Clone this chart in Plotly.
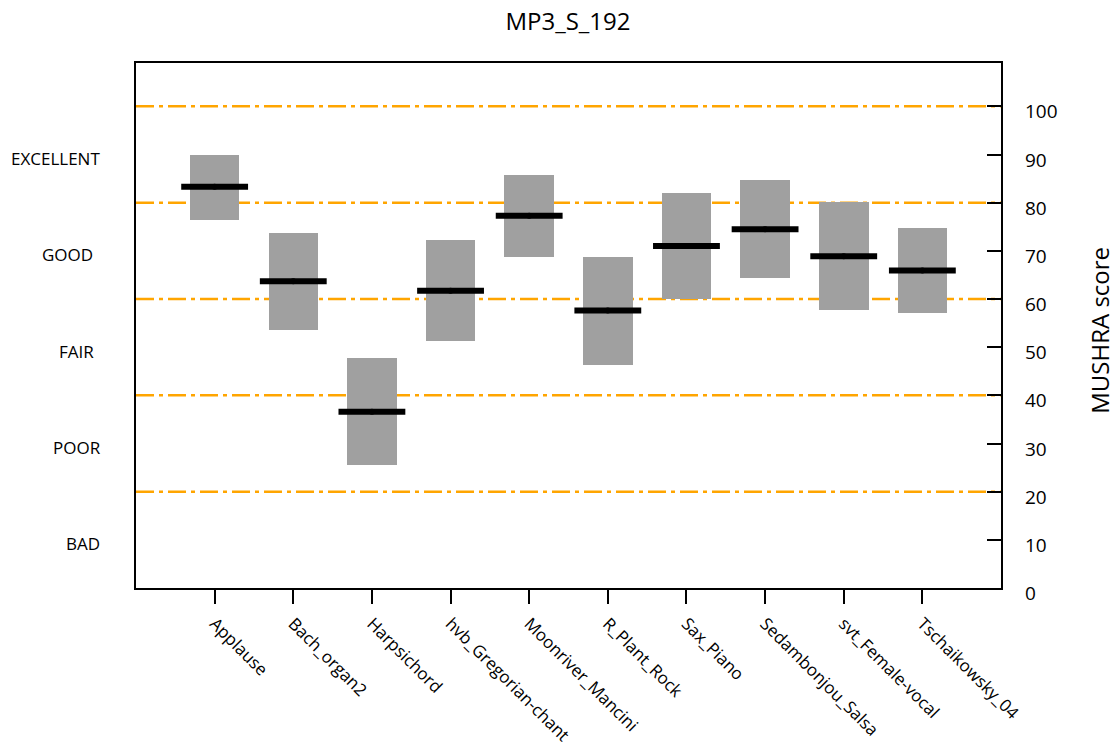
import plotly.graph_objects as go

# MUSHRA listening-test results for MP3 at 192 kbit/s
items = ["Applause", "Bach_organ2", "Harpsichord", "hvb_Gregorian-chant",
         "Moonriver_Mancini", "R_Plant_Rock", "Sax_Piano", "Sedambonjou_Salsa",
         "svt_Female-vocal", "Tschaikowsky_04"]
mean_score = [83.3, 63.7, 36.6, 61.7, 77.3, 57.6, 71.0, 74.5, 68.9, 65.9]
ci_low = [76.4, 53.6, 25.5, 51.3, 68.8, 46.4, 60.1, 64.4, 57.7, 57.0]
ci_high = [90.0, 73.7, 47.7, 72.2, 85.8, 68.8, 82.0, 84.7, 80.2, 74.8]

grade_bounds = [20, 40, 60, 80, 100]
grade_names = ["BAD", "POOR", "FAIR", "GOOD", "EXCELLENT"]
grade_centres = [10, 30, 50, 70, 90]
score_ticks = [0, 10, 20, 30, 40, 50, 60, 70, 80, 90, 100]

FONT = "Open Sans"
W, H = 1120, 749
ML, MR, MT, MB = 136, 119, 63, 161
PW = W - ML - MR
pos = list(range(len(items)))

fig = go.Figure()

# confidence-interval boxes
fig.add_trace(go.Bar(
    x=pos,
    y=[h - l for h, l in zip(ci_high, ci_low)],
    base=ci_low,
    width=0.63,
    marker=dict(color="#a0a0a0", line=dict(width=0)),
    hoverinfo="skip",
    showlegend=False,
))

# mean bars
seg_x, seg_y = [], []
for p, m in zip(pos, mean_score):
    seg_x += [p - 0.425, p + 0.425, None]
    seg_y += [m, m, None]
fig.add_trace(go.Scatter(
    x=seg_x, y=seg_y, mode="lines",
    line=dict(color="black", width=6),
    hoverinfo="skip", showlegend=False,
))
fig.add_trace(go.Scatter(
    x=pos, y=mean_score, mode="markers",
    marker=dict(color="black", size=6),
    hoverinfo="skip", showlegend=False,
))

# grade boundaries
for b in grade_bounds:
    fig.add_hline(y=b, line=dict(color="#ffa500", width=2.5, dash="18px,5px,4px,5px"),
                  layer="below")

# grade names on the left
label_px = {"EXCELLENT": 9, "GOOD": 40, "FAIR": 57, "POOR": 51, "BAD": 64}
for name, c in zip(grade_names, grade_centres):
    fig.add_annotation(
        x=(label_px[name] - ML) / PW, xref="paper", xanchor="left",
        y=c, yref="y", yanchor="middle", yshift=-4,
        text=name, showarrow=False,
        font=dict(family=FONT, size=17, color="black"),
    )

# score labels on the right axis
for t in score_ticks:
    fig.add_annotation(
        x=1, xref="paper", xanchor="left", xshift=22,
        y=t, yref="y", yanchor="middle", yshift=-5,
        text=str(t), showarrow=False,
        font=dict(family=FONT, size=19, color="black"),
    )
fig.add_annotation(
    x=(1100 - ML) / PW, xref="paper", xanchor="center",
    y=0.49, yref="paper", yanchor="middle",
    text="MUSHRA score", textangle=-90, showarrow=False,
    font=dict(family=FONT, size=24, color="black"),
)

fig.update_layout(
    width=W, height=H,
    margin=dict(l=ML, r=MR, t=MT, b=MB, autoexpand=False),
    paper_bgcolor="white", plot_bgcolor="white",
    title=dict(text="MP3_S_192", x=(568 - ML) / PW, xref="paper", xanchor="center",
               y=1 - 22 / H, yanchor="middle",
               font=dict(family=FONT, size=24, color="black")),
    bargap=0,
    font=dict(family=FONT, color="black"),
)

fig.update_xaxes(
    range=[-1, 10], tickvals=pos, ticktext=items, tickangle=45,
    ticks="outside", ticklen=14, tickwidth=2, tickcolor="black",
    showline=True, linecolor="black", linewidth=2, mirror=True,
    showgrid=False, zeroline=False, ticklabelstandoff=3, automargin=False,
    tickfont=dict(family=FONT, size=17, color="black"),
)
fig.update_yaxes(
    range=[0, 109], side="right", tickvals=score_ticks, showticklabels=False,
    ticks="inside", ticklen=14, tickwidth=2, tickcolor="black",
    showline=True, linecolor="black", linewidth=2, mirror=True,
    showgrid=False, zeroline=False, automargin=False,
)

fig.write_html("out.html")
